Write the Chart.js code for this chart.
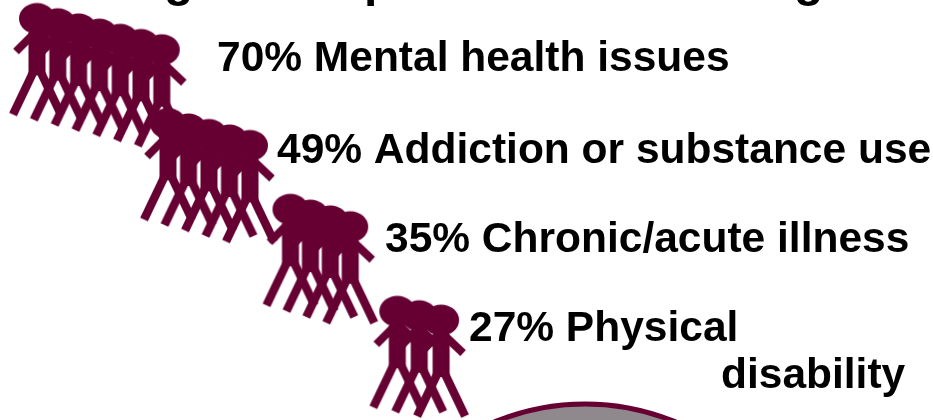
<!DOCTYPE html>
<html><head><meta charset="utf-8">
<style>html,body{margin:0;padding:0;background:#fff;overflow:hidden}canvas{display:block}</style>
<script src="https://cdn.jsdelivr.net/npm/chart.js@4"></script>
</head><body><canvas id="c" width="933" height="420"></canvas>
<script>
const categories = ["Mental health issues","Addiction or substance use","Chronic/acute illness","Physical"];
const percents = [70,49,35,27];
const extraLine = "disability";
const titleFragments = ["g","p","g"];

const MAROON="#660033";
function personIcon(){
  const W=120,H=240,c=document.createElement('canvas');c.width=W;c.height=H;
  const g=c.getContext('2d');g.translate(W/2,H/2);g.fillStyle=MAROON;g.strokeStyle=MAROON;
  g.beginPath();g.ellipse(0,0,18,15.5,0,0,Math.PI*2);g.fill();
  g.fillRect(-8.5,14,17,43);
  g.lineCap='butt';
  g.lineWidth=8;g.beginPath();g.moveTo(-3,15);g.lineTo(-21,33);g.moveTo(3,15);g.lineTo(22,33);g.stroke();
  g.lineWidth=8.5;g.beginPath();g.moveTo(-2,50);g.lineTo(-24,96);g.moveTo(2,50);g.lineTo(24,96);g.stroke();
  return c;
}
const icon=personIcon();
// group placement on the page-sized scales: first head, step between people
const groupLayout=[{x:37,y:18.5,dx:20.8,dy:5.2},{x:168,y:123.5,dx:20.5,dy:5.5},{x:290.5,y:209.3,dx:19.9,dy:5.8},{x:397.3,y:311.3,dx:21.9,dy:4.4}];
const labelLayout=[{x:217,y:71},{x:277,y:162.5},{x:385,y:251.5},{x:469,y:341}];
const extraLayout={x:721,y:388};
const titleLayout=[{x:164,y:-4},{x:364,y:-4},{x:794,y:-4}];
const groupDatasets=percents.map((p,k)=>{
  const L=groupLayout[k],n=Math.round(p/10),pts=[];
  for(let i=0;i<n;i++)pts.push({x:L.x+i*L.dx,y:L.y+i*L.dy});
  return {label:categories[k],data:pts,pointStyle:icon,pointRadius:20,clip:false};
});
const textPlugin={id:'text',afterDatasetsDraw(ch){
  const {ctx,scales:{x,y}}=ch;ctx.save();ctx.fillStyle='#000';ctx.textAlign='left';ctx.textBaseline='alphabetic';
  ctx.font='bold 42.5px "Liberation Sans"';
  categories.forEach((t,i)=>ctx.fillText(percents[i]+"% "+t,x.getPixelForValue(labelLayout[i].x),y.getPixelForValue(labelLayout[i].y)));
  ctx.fillText(extraLine,x.getPixelForValue(extraLayout.x),y.getPixelForValue(extraLayout.y));
  ctx.font='bold 48px "Liberation Sans"';
  titleFragments.forEach((t,i)=>ctx.fillText(t,x.getPixelForValue(titleLayout[i].x),titleLayout[i].y));
  ctx.restore();
}};
new Chart(document.getElementById('c'),{
  type:'scatter',
  data:{datasets:[
    ...groupDatasets,
    {label:'base',data:[{x:585,y:641}],pointStyle:'circle',pointRadius:237,backgroundColor:'#8f888c',borderColor:MAROON,borderWidth:5,clip:false}]},
  options:{responsive:false,animation:false,layout:{padding:0,autoPadding:false},
    plugins:{legend:{display:false},tooltip:{enabled:false},title:{display:false}},
    scales:{x:{type:'linear',min:0,max:933,display:false},y:{type:'linear',min:0,max:420,reverse:true,display:false}}},
  plugins:[textPlugin]
});
</script></body></html>
